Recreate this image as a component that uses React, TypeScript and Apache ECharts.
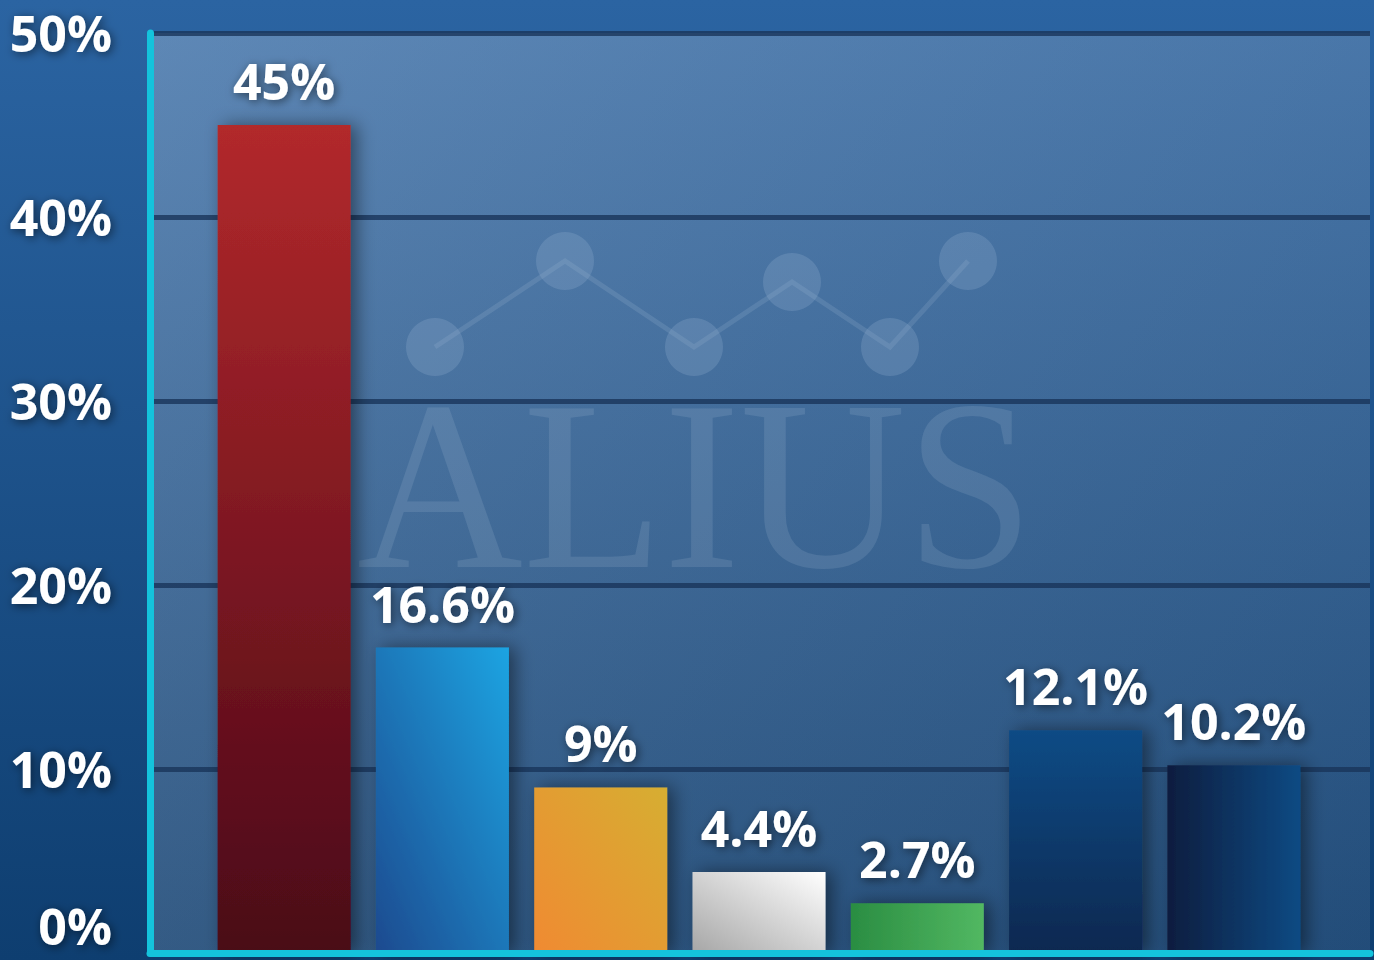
import React, { useEffect, useRef } from "react";
import * as echarts from "echarts";

const categories = ["A", "B", "C", "D", "E", "F", "G"];
const values = [45, 16.6, 9, 4.4, 2.7, 12.1, 10.2];
const yTicks = [0, 10, 20, 30, 40, 50];

const lin = (x: number, y: number, x2: number, y2: number, c0: string, c1: string) =>
  new echarts.graphic.LinearGradient(x, y, x2, y2, [
    { offset: 0, color: c0 },
    { offset: 1, color: c1 },
  ]);

const barFills = [
  lin(0, 0, 0, 1, "#b2292b", "#4a0718"),
  lin(1, 0, 0, 1, "#1aa4e2", "#1b4a8f"),
  lin(1, 0, 0, 1, "#d6ae33", "#f08a30"),
  lin(1, 0, 0, 1, "#ffffff", "#a6a6a6"),
  lin(0, 0, 1, 0, "#2a8d42", "#52b862"),
  lin(0, 0, 0, 1, "#0b4b85", "#0f2850"),
  lin(0, 0, 1, 0, "#0c1d3f", "#0b4a83"),
];

const dots = [
  [435, 347],
  [565, 261],
  [694, 347],
  [792, 282],
  [890, 347],
  [968, 261],
];

export default function App() {
  const ref = useRef<HTMLDivElement>(null);
  useEffect(() => {
    if (!ref.current) return;
    const chart = echarts.init(ref.current, null, { renderer: "svg" });
    const labelFont = {
      color: "#ffffff",
      fontFamily: "'Open Sans', Lato, sans-serif",
      fontWeight: 700 as any,
      fontSize: 50,
      textShadowColor: "rgba(0,0,0,0.55)",
      textShadowBlur: 10,
      textShadowOffsetX: 2,
      textShadowOffsetY: 2,
    };
    const wmColor = "rgba(210,225,240,0.13)";
    const graphicEls: any[] = [];
    graphicEls.push({
      type: "polyline",
      z: 0.5,
      silent: true,
      shape: { points: dots },
      style: { stroke: wmColor, lineWidth: 5, fill: null },
    });
    dots.forEach((d) =>
      graphicEls.push({
        type: "circle",
        z: 0.5,
        silent: true,
        shape: { cx: d[0], cy: d[1], r: 29 },
        style: { fill: "rgba(150,180,210,0.25)" },
      })
    );
    graphicEls.push({
      type: "text",
      z: 0.5,
      silent: true,
      x: 357,
      y: 364,
      scaleX: 0.95,
      style: {
        text: "ALIUS",
        font: "242px 'Liberation Serif', 'DejaVu Serif', serif",
        fill: wmColor,
        verticalAlign: "top",
      },
    });

    chart.setOption({
      animation: false,
      backgroundColor: lin(0, 0, 0, 1, "#2b64a2", "#0e3e70"),
      graphic: { elements: graphicEls },
      grid: [
        {
          left: 150,
          right: 4,
          top: 33,
          bottom: 7,
          outerBoundsMode: "none",
          show: true,
          borderWidth: 0,
          z: 0,
          backgroundColor: lin(0, 0, 1, 1, "rgba(215,222,232,0.30)", "rgba(140,150,165,0.16)"),
        },
        { left: 205, right: 61, top: 33, bottom: 7, outerBoundsMode: "none" },
      ],
      xAxis: [
        {
          gridIndex: 0,
          type: "value",
          min: 0,
          max: 1,
          offset: 5,
          z: 3,
          axisLine: { show: true, lineStyle: { color: "#14c3dc", width: 7 } },
          axisTick: { show: false },
          axisLabel: { show: false },
          splitLine: { show: false },
        },
        {
          gridIndex: 1,
          type: "category",
          data: categories,
          axisLine: { show: false },
          axisTick: { show: false },
          axisLabel: { show: false },
        },
      ],
      yAxis: [
        {
          gridIndex: 0,
          type: "value",
          min: 0,
          max: 50,
          interval: 10,
          z: 1,
          axisLine: { show: true, lineStyle: { color: "#14c3dc", width: 7 } },
          axisTick: { show: false },
          splitLine: {
            show: true,
            lineStyle: { color: "rgba(25,52,90,0.8)", width: 5 },
          },
          axisLabel: {
            ...labelFont,
            lineHeight: 52,
            margin: 38,
            customValues: yTicks,
            formatter: (v: number) => (v === 0 ? "{z|0%}" : v + "%"),
            rich: {
              z: { ...labelFont, padding: [0, 0, 54, 0] },
            },
          },
        },
        {
          gridIndex: 1,
          type: "value",
          min: 0,
          max: 50,
          show: false,
        },
      ],
      series: [
        {
          type: "bar",
          xAxisIndex: 1,
          yAxisIndex: 1,
          barWidth: 133,
          z: 2,
          data: values.map((v, i) => ({
            value: v,
            itemStyle: {
              color: barFills[i],
              shadowBlur: 18,
              shadowColor: "rgba(0,0,0,0.45)",
              shadowOffsetX: 6,
              shadowOffsetY: 0,
            },
          })),
          label: {
            show: true,
            position: "top",
            distance: 19,
            ...labelFont,
            formatter: (p: any) => p.value + "%",
          },
        },
      ],
    });
    return () => chart.dispose();
  }, []);
  return (
    <div
      ref={ref}
      style={{ position: "absolute", left: 0, top: 0, width: 1374, height: 960 }}
    />
  );
}
